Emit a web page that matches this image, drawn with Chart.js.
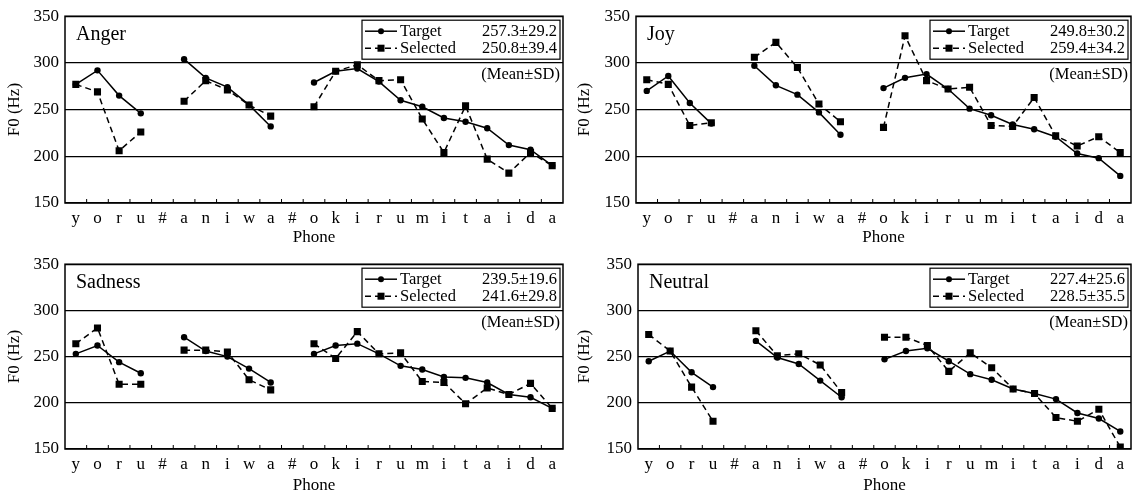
<!DOCTYPE html>
<html>
<head>
<meta charset="utf-8">
<script src="https://cdn.jsdelivr.net/npm/chart.js@4/dist/chart.umd.min.js"></script>
<style>
  html, body { margin: 0; padding: 0; background: #fff; }
  #wrap { position: relative; width: 1136px; height: 496px; overflow: hidden; }
  .panel { position: absolute; }
</style>
</head>
<body>
<div id="wrap">
  <div class="panel" id="p0"><canvas id="c0"></canvas></div>
  <div class="panel" id="p1"><canvas id="c1"></canvas></div>
  <div class="panel" id="p2"><canvas id="c2"></canvas></div>
  <div class="panel" id="p3"><canvas id="c3"></canvas></div>
</div>
<script>
// F0 per phone for the sentence "yoru # aniwa # okirumitaida"; '#' = pause (no value)
const phones = ['y','o','r','u','#','a','n','i','w','a','#','o','k','i','r','u','m','i','t','a','i','d','a'];
const yTicks = [150, 200, 250, 300, 350];
const emotions = ['Anger', 'Joy', 'Sadness', 'Neutral'];
const seriesNames = ['Target', 'Selected'];

const angerTarget   = [277, 292, 265, 246, null, 304, 284, 274, 255, 232, null, 279, 291, 294, 280, 260, 253, 241, 237, 230, 212, 207, 190];
const angerSelected = [277, 269, 206, 226, null, 259, 281, 271, 255, 243, null, 253, 291, 298, 281, 282, 240, 204, 254, 197, 182, 204, 190];
const joyTarget     = [270, 286, 257, 235, null, 297, 276, 266, 247, 223, null, 273, 284, 288, 272, 251, 244, 234, 229, 221, 203, 198, 179];
const joySelected   = [282, 277, 233, 236, null, 306, 322, 295, 256, 237, null, 231, 329, 281, 272, 274, 233, 232, 263, 222, 211, 221, 204];
const sadTarget     = [253, 262, 244, 232, null, 271, 256, 250, 237, 222, null, 253, 262, 264, 253, 240, 236, 228, 227, 222, 209, 206, 194];
const sadSelected   = [264, 281, 220, 220, null, 257, 257, 255, 225, 214, null, 264, 248, 277, 253, 254, 223, 222, 199, 216, 209, 221, 194];
const neuTarget     = [245, 256, 233, 217, null, 267, 249, 242, 224, 206, null, 247, 256, 259, 245, 231, 225, 215, 210, 204, 189, 183, 169];
const neuSelected   = [274, 256, 217, 180, null, 278, 251, 253, 241, 211, null, 271, 271, 262, 234, 254, 238, 215, 210, 184, 180, 193, 152];

const targetStats   = ['257.3±29.2', '249.8±30.2', '239.5±19.6', '227.4±25.6'];
const selectedStats = ['250.8±39.4', '259.4±34.2', '241.6±29.8', '228.5±35.5'];

const targets = [angerTarget, joyTarget, sadTarget, neuTarget];
const selecteds = [angerSelected, joySelected, sadSelected, neuSelected];

// panel placement and plot-area box inside each canvas (px)
const LAYOUT = [
  { left: 0,   top: 0,   w: 568, h: 248, area: { l: 65, t: 15, r: 567, b: 203 } },
  { left: 570, top: 0,   w: 566, h: 248, area: { l: 66, t: 15, r: 565, b: 203 } },
  { left: 0,   top: 248, w: 568, h: 248, area: { l: 65, t: 16, r: 567, b: 201 } },
  { left: 570, top: 248, w: 566, h: 248, area: { l: 68, t: 15, r: 565, b: 201 } },
];

const FONT = '"Liberation Serif", "Times New Roman", serif';
const INK = '#000';

const panelDecor = {
  id: 'panelDecor',
  afterDraw(chart, args, opts) {
    const { ctx, chartArea: a, scales: { x } } = chart;
    ctx.save();
    ctx.strokeStyle = INK;
    ctx.fillStyle = INK;

    // frame
    ctx.lineWidth = 1.5;
    ctx.strokeRect(a.left, a.top, a.right - a.left, a.bottom - a.top);

    // small inner ticks between phones
    ctx.lineWidth = 1;
    for (let i = 1; i < phones.length; i++) {
      const px = (x.getPixelForValue(i - 1) + x.getPixelForValue(i)) / 2;
      ctx.beginPath();
      ctx.moveTo(px, a.bottom);
      ctx.lineTo(px, a.bottom - 4);
      ctx.stroke();
    }

    // emotion name
    ctx.font = '20px ' + FONT;
    ctx.textBaseline = 'alphabetic';
    ctx.textAlign = 'left';
    ctx.fillText(opts.name, a.left + 11, a.top + 24);

    // legend box
    const w = 198, h = 39;
    const bx = a.right - 3 - w, by = a.top + 4;
    ctx.fillStyle = '#fff';
    ctx.fillRect(bx, by, w, h);
    ctx.lineWidth = 1.2;
    ctx.strokeRect(bx, by, w, h);
    ctx.fillStyle = INK;
    ctx.font = '16.5px ' + FONT;
    ctx.textBaseline = 'middle';
    chart.data.datasets.forEach((ds, k) => {
      const cy = by + 11 + k * 17;
      ctx.lineWidth = ds.borderWidth;
      ctx.setLineDash(ds.borderDash || []);
      ctx.beginPath();
      ctx.moveTo(bx + 3, cy);
      ctx.lineTo(bx + 35, cy);
      ctx.stroke();
      ctx.setLineDash([]);
      if (ds.pointStyle === 'rect') {
        ctx.fillRect(bx + 19 - 3.5, cy - 3.5, 7, 7);
      } else {
        ctx.beginPath();
        ctx.arc(bx + 19, cy, 3, 0, Math.PI * 2);
        ctx.fill();
      }
      ctx.textAlign = 'left';
      ctx.fillText(ds.label, bx + 38, cy);
      ctx.textAlign = 'right';
      ctx.fillText(opts.stats[k], bx + w - 3, cy);
    });
    ctx.textAlign = 'right';
    ctx.fillText('(Mean±SD)', bx + w, by + h + 15);
    ctx.restore();
  }
};

function makePanel(i) {
  const L = LAYOUT[i];
  const box = document.getElementById('p' + i);
  Object.assign(box.style, { left: L.left + 'px', top: L.top + 'px', width: L.w + 'px', height: L.h + 'px' });

  new Chart(document.getElementById('c' + i), {
    type: 'line',
    data: {
      labels: phones,
      datasets: [
        {
          label: seriesNames[0],
          data: targets[i],
          borderColor: INK,
          backgroundColor: INK,
          borderWidth: 1.5,
          pointStyle: 'circle',
          pointRadius: 3.2,
          pointBorderWidth: 0,
          tension: 0,
        },
        {
          label: seriesNames[1],
          data: selecteds[i],
          borderColor: INK,
          backgroundColor: INK,
          borderWidth: 1.5,
          borderDash: [6, 4],
          pointStyle: 'rect',
          pointRadius: 5,
          pointBorderWidth: 0,
          tension: 0,
        },
      ],
    },
    options: {
      responsive: true,
      maintainAspectRatio: false,
      animation: false,
      events: [],
      layout: { padding: { left: 0, top: L.area.t, right: L.w - L.area.r, bottom: 0 } },
      plugins: {
        legend: { display: false },
        tooltip: { enabled: false },
        panelDecor: { name: emotions[i], stats: [targetStats[i], selectedStats[i]] },
      },
      scales: {
        x: {
          type: 'category',
          offset: true,
          grid: { display: false, drawTicks: false },
          border: { display: false },
          ticks: { color: INK, font: { family: FONT, size: 17 }, padding: 5, autoSkip: false, maxRotation: 0 },
          title: { display: true, text: 'Phone', color: INK, font: { family: FONT, size: 17 }, padding: { top: 0, bottom: 0 } },
          afterFit: (s) => { s.height = L.h - L.area.b; },
        },
        y: {
          min: yTicks[0],
          max: yTicks[yTicks.length - 1],
          afterBuildTicks: (s) => { s.ticks = yTicks.map((v) => ({ value: v })); },
          grid: { color: INK, lineWidth: 1.3, drawTicks: false },
          border: { display: false },
          ticks: { color: INK, font: { family: FONT, size: 17 }, padding: 6 },
          title: { display: true, text: 'F0 (Hz)', color: INK, font: { family: FONT, size: 17 }, padding: { top: 4, bottom: 0 } },
          afterFit: (s) => { s.width = L.area.l; },
        },
      },
    },
    plugins: [panelDecor],
  });
}

emotions.forEach((_, i) => makePanel(i));
</script>
</body>
</html>
